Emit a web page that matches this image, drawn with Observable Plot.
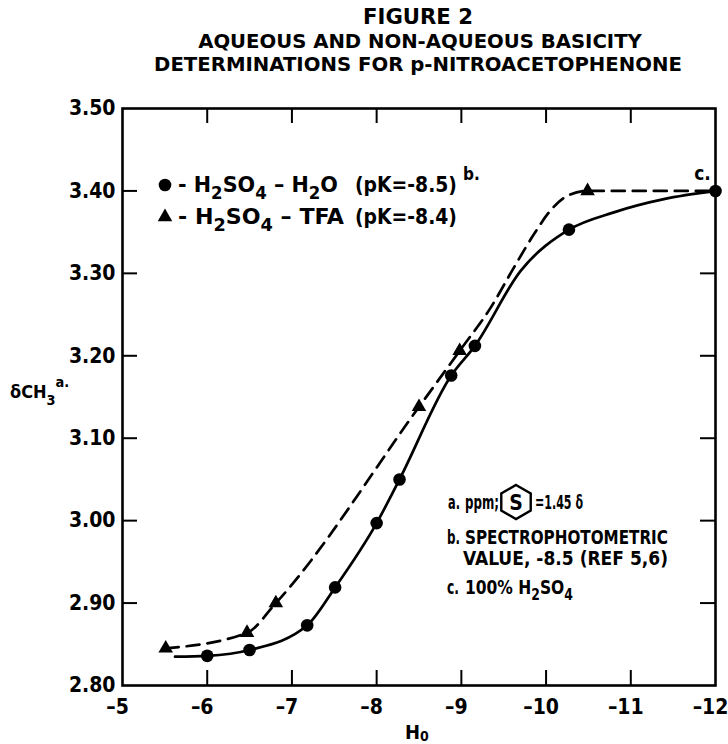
<!DOCTYPE html>
<html>
<head>
<meta charset="utf-8">
<script src="https://cdn.jsdelivr.net/npm/d3@7"></script>
<script src="https://cdn.jsdelivr.net/npm/@observablehq/plot@0.6"></script>
<style>
  html, body { margin: 0; padding: 0; background: #fff; }
  #page { width: 728px; height: 744px; overflow: hidden; }
  svg { display: block; }
  .lettering { font-family: "DejaVu Sans Condensed", "DejaVu Sans", sans-serif; font-stretch: condensed; font-weight: bold; fill: #000; }
</style>
</head>
<body>
<div id="page"></div>
<script>
// ---- data ----
const titleLines = ["FIGURE 2", "AQUEOUS AND NON-AQUEOUS BASICITY", "DETERMINATIONS FOR p-NITROACETOPHENONE"];
const xTicks = [-5, -6, -7, -8, -9, -10, -11, -12];
const yTicks = [2.80, 2.90, 3.00, 3.10, 3.20, 3.30, 3.40, 3.50];

// H2SO4 - H2O (circles)
const aqH0    = [-6.00, -6.50, -7.18, -7.51, -8.00, -8.27, -8.88, -9.16, -10.27, -12.00];
const aqShift = [2.836, 2.843, 2.873, 2.919, 2.997, 3.050, 3.176, 3.212, 3.353, 3.400];
// H2SO4 - TFA (triangles)
const tfaH0    = [-5.51, -6.47, -6.81, -8.50, -8.98, -10.49];
const tfaShift = [2.845, 2.864, 2.900, 3.138, 3.206, 3.400];

// hand-drawn curves, as traced on the figure
const aqCurveH0    = [-5.62, -6.00, -6.50, -7.18, -7.51, -8.00, -8.27, -8.88, -9.16, -9.70, -10.27, -10.80, -11.39, -12.00];
const aqCurveShift = [2.835, 2.836, 2.843, 2.873, 2.919, 2.997, 3.050, 3.176, 3.212, 3.303, 3.353, 3.374, 3.390, 3.400];
const tfaCurveH0    = [-5.51, -6.47, -6.81, -8.50, -8.98, -9.35, -9.62, -9.86, -10.05, -10.25, -10.49, -12.00];
const tfaCurveShift = [2.845, 2.864, 2.900, 3.138, 3.206, 3.259, 3.307, 3.348, 3.376, 3.394, 3.400, 3.400];

const FONT = '"DejaVu Sans Condensed", "DejaVu Sans", sans-serif';

const aq = aqH0.map((h, i) => ({h, s: aqShift[i]}));
const tfa = tfaH0.map((h, i) => ({h, s: tfaShift[i]}));
const aqCurve = aqCurveH0.map((h, i) => ({h, s: aqCurveShift[i]}));
const tfaCurve = tfaCurveH0.map((h, i) => ({h, s: tfaCurveShift[i]}));

const W = 728, H = 669, mT = 33, mB = 59, mL = 122, mR = 13;
const fw = W - mL - mR, fh = H - mT - mB, tick = 15;

// squeeze a text element horizontally to a given width, about its anchor x
function fitWidth(t, x, width) {
  const n = t.node().getComputedTextLength();
  if (n > 0 && width) t.attr("transform", `translate(${x},0) scale(${width / n},1) translate(${-x},0)`);
  return t;
}

// ---- title (above the plot svg) ----
const page = d3.select("#page");
const tsvg = page.append("svg").attr("width", W).attr("height", 75).attr("class", "lettering");
fitWidth(tsvg.append("text").attr("x", 418).attr("y", 24).attr("text-anchor", "middle").attr("font-size", 22).text(titleLines[0]), 418, 110);
fitWidth(tsvg.append("text").attr("x", 420).attr("y", 48).attr("text-anchor", "middle").attr("font-size", 20).text(titleLines[1]), 420, 444);
fitWidth(tsvg.append("text").attr("x", 418).attr("y", 71.5).attr("text-anchor", "middle").attr("font-size", 20).text(titleLines[2]), 418, 528);

const innerX = xTicks.slice(1, -1), innerY = yTicks.slice(1, -1);

const chart = Plot.plot({
  width: W, height: H,
  marginTop: mT, marginBottom: mB, marginLeft: mL, marginRight: mR,
  x: {domain: [-5, -12], axis: null},
  y: {domain: [2.8, 3.5], axis: null},
  style: {fontFamily: FONT, fontWeight: "bold", background: "white", color: "black", overflow: "visible"},
  marks: [
    // inward ticks on all four sides
    Plot.ruleX(innerX, {x: d => d, stroke: "black", strokeWidth: 2, insetTop: fh - tick}),
    Plot.ruleX(innerX, {x: d => d, stroke: "black", strokeWidth: 2, insetBottom: fh - tick}),
    Plot.ruleY(innerY, {y: d => d, stroke: "black", strokeWidth: 2, insetRight: fw - tick}),
    Plot.ruleY(innerY, {y: d => d, stroke: "black", strokeWidth: 2, insetLeft: fw - tick}),
    Plot.frame({stroke: "black", strokeWidth: 2.6}),
    // tick labels
    Plot.text(xTicks, {x: d => d, frameAnchor: "bottom", lineAnchor: "top", dy: 14, dx: -5,
      text: d => "\u2013" + Math.abs(d), fontSize: 21, fontWeight: "bold", fill: "black"}),
    Plot.text(yTicks, {y: d => d, frameAnchor: "left", textAnchor: "end", dx: -7,
      text: d => d.toFixed(2), fontSize: 21, fontWeight: "bold", fill: "black"}),
    // curves
    Plot.line(aqCurve, {x: "h", y: "s", curve: "monotone-x", stroke: "black", strokeWidth: 2.7}),
    Plot.line(tfaCurve, {x: "h", y: "s", curve: "monotone-x", stroke: "black", strokeWidth: 2.7, strokeDasharray: "13,8"}),
    // points
    Plot.dot(aq, {x: "h", y: "s", r: 6.3, fill: "black", stroke: "none"}),
    Plot.dot(tfa, {x: "h", y: "s", symbol: "triangle", r: 5.4, fill: "black", stroke: "none"}),
    // note c. at 100% H2SO4
    Plot.text([{h: -12, s: 3.40}], {x: "h", y: "s", text: () => "c.", dx: -13, dy: -17, fontSize: 19, fontWeight: "bold", fill: "black"})
  ]
});
page.node().appendChild(chart);

// ---- annotations with sub/superscripts ----
const svg = d3.select(chart);
const g = svg.append("g").attr("class", "lettering");

function rich(x, y, parts, size = 20, opts = {}) {
  const t = g.append("text").attr("x", x).attr("y", y).attr("font-size", size)
    .attr("text-anchor", opts.anchor || "start").style("white-space", "pre");
  let cur = 0;
  const subOff = opts.subOff ?? 0.3, supOff = opts.supOff ?? 0.5;
  for (const p of parts) {
    const o = typeof p === "string" ? {t: p} : p;
    const off = o.sub ? size * subOff : o.sup ? -size * supOff : 0;
    const ts = t.append("tspan").text(o.t);
    if (off !== cur) ts.attr("dy", off - cur);
    if (o.sub || o.sup) ts.attr("font-size", size * (opts.smallScale ?? 0.8));
    cur = off;
  }
  if (opts.width) fitWidth(t, x, opts.width);
  return t;
}

// legend
g.append("circle").attr("cx", 165).attr("cy", 110).attr("r", 6.3);
g.append("path").attr("transform", "translate(165,142)").attr("d", d3.symbol(d3.symbolTriangle, Math.PI * 5.4 * 5.4)());
rich(178, 117.5, ["- H", {t: "2", sub: true}, "SO", {t: "4", sub: true}, " \u2013 H", {t: "2", sub: true}, "O"], 21, {width: 160});
rich(355, 117.5, ["(pK=-8.5)"], 21, {width: 102});
rich(463, 105, ["b."], 17);
rich(178, 149.5, ["- H", {t: "2", sub: true}, "SO", {t: "4", sub: true}, " \u2013 TFA"], 21, {width: 166});
rich(355, 149.5, ["(pK=-8.4)"], 21, {width: 102});

// notes
rich(448, 434, ["a."], 19, {width: 12});
rich(465, 434, ["ppm;"], 19, {width: 34});
const hx = 516, hy = 427, hr = 17;
const hex = d3.range(6).map(k => {
  const a = (-90 + 60 * k) * Math.PI / 180;
  return [hx + hr * Math.cos(a), hy + hr * Math.sin(a)];
});
g.append("path").attr("d", "M" + hex.map(p => p.join(",")).join("L") + "Z")
  .attr("fill", "none").attr("stroke", "black").attr("stroke-width", 2.4);
rich(hx, hy + 7.5, ["S"], 21, {anchor: "middle"});
rich(535, 434, ["=1.45 \u03b4"], 19, {width: 48});
rich(447, 469.5, ["b."], 19, {width: 13});
rich(465, 469.5, ["SPECTROPHOTOMETRIC"], 20, {width: 203});
rich(463, 490.5, ["VALUE, -8.5 (REF 5,6)"], 20, {width: 205});
rich(447, 519.5, ["c."], 19, {width: 12});
rich(465, 519.5, ["100% H", {t: "2", sub: true}, "SO", {t: "4", sub: true}], 20, {width: 108});

// axis titles
rich(10, 323, ["\u03b4CH", {t: "3", sub: true}, {t: "a.", sup: true}], 18, {subOff: 0.38, supOff: 0.62});
rich(405, 664, ["H", {t: "0", sub: true}], 20, {subOff: 0.1, smallScale: 0.7});
</script>
</body>
</html>
